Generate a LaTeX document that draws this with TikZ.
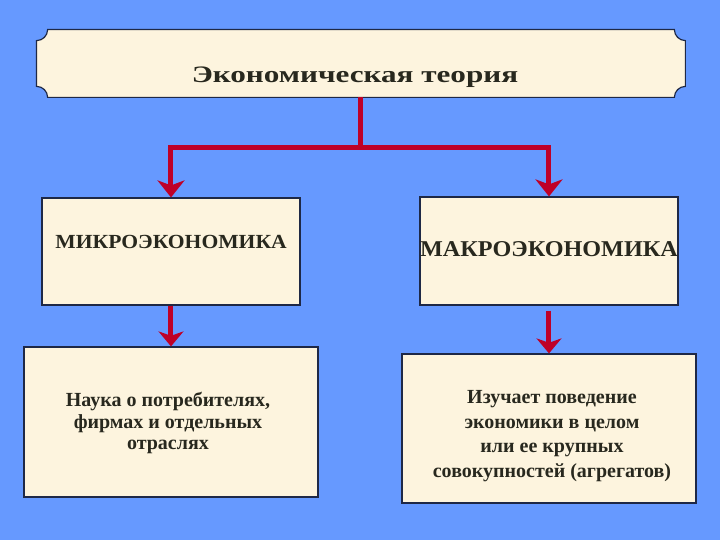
\documentclass[tikz,border=0pt]{standalone}
\usepackage{fontspec}
\usepackage{graphicx}
\setmainfont{Liberation Serif}
\usetikzlibrary{calc,arrows.meta}

\definecolor{slideblue}{RGB}{102,153,255}
\definecolor{paper}{RGB}{253,244,222}
\definecolor{edge}{RGB}{30,40,70}
\definecolor{arrowred}{RGB}{190,0,40}
\definecolor{ink}{RGB}{40,40,30}

\newcommand{\widen}[2]{\scalebox{#1}[1]{#2}}

\tikzset{
  sheet/.style={draw=edge, line width=0.6pt, fill=paper, inner sep=0pt},
  link/.style={draw=arrowred, line width=2.5pt},
  bigtip/.style={-{Stealth[length=8.5pt, width=13.5pt, inset=2.5pt]}},
  smalltip/.style={-{Stealth[length=7.5pt, width=12.5pt, inset=2.2pt]}},
  words/.style={text=ink, font=\bfseries, inner sep=0pt}
}

\begin{document}
\begin{tikzpicture}[x=0.5pt, y=-0.5pt]
                \fill[slideblue] (0,0) rectangle (720,540);
                % title plaque
                \node[inner sep=0pt, minimum width=324pt, minimum height=33.5pt] (theory) at (361,63.5) {};
                \draw[sheet] ([xshift=5.5pt]theory.north west) -- ([xshift=-5.5pt]theory.north east)
                    arc[start angle=180, end angle=270, radius=5.5pt] -- ([yshift=5.5pt]theory.south east)
                    arc[start angle=90, end angle=180, radius=5.5pt] -- ([xshift=5.5pt]theory.south west)
                    arc[start angle=0, end angle=90, radius=5.5pt] -- ([yshift=-5.5pt]theory.north west)
                    arc[start angle=-90, end angle=0, radius=5.5pt] -- cycle;
                \node[words, font=\bfseries\fontsize{11.8}{13}\selectfont] (title) at (355,77)
                    {\widen{1.32}{Экономическая теория}};
                % second row
                \node[sheet, minimum width=129pt, minimum height=53.5pt] (micro) at (171,251.5) {};
                \node[words, font=\bfseries\fontsize{10}{12}\selectfont, anchor=west] (microtext) at (55,241.5)
                    {\widen{1.08}{МИКРОЭКОНОМИКА}};
                \node[sheet, minimum width=129pt, minimum height=54pt] (macro) at (549,251) {};
                \node[words, font=\bfseries\fontsize{11.3}{12}\selectfont] (macrotext) at (549,249.5)
                    {\widen{1.07}{МАКРОЭКОНОМИКА}};
                % third row
                \node[sheet, minimum width=147pt, minimum height=75pt] (science) at (171,422) {};
                \node[words, align=center, font=\bfseries\fontsize{10}{10.6}\selectfont] (sciencetext) at (168,423)
                    {Наука о потребителях,\\фирмах и отдельных\\отраслях};
                \node[sheet, minimum width=147pt, minimum height=74.5pt] (whole) at (549,428.5) {};
                \node[words, align=center, font=\bfseries\fontsize{10}{12.3}\selectfont] (wholetext) at (552,436)
                    {Изучает поведение\\экономики в целом\\или ее крупных\\совокупностей (агрегатов)};
                % arrows
                \coordinate (fork) at ($(theory.south)+(0,50)$);
                \draw[link] (theory.south) -- (fork);
                \draw[link, bigtip] (fork) -| (micro.north);
                \draw[link, bigtip] (fork) -| (macro.north);
                \draw[link, smalltip] (micro.south) -- (science.north);
                \draw[link, smalltip] ([yshift=-2.5pt]macro.south) -- (whole.north);
\end{tikzpicture}
\end{document}
